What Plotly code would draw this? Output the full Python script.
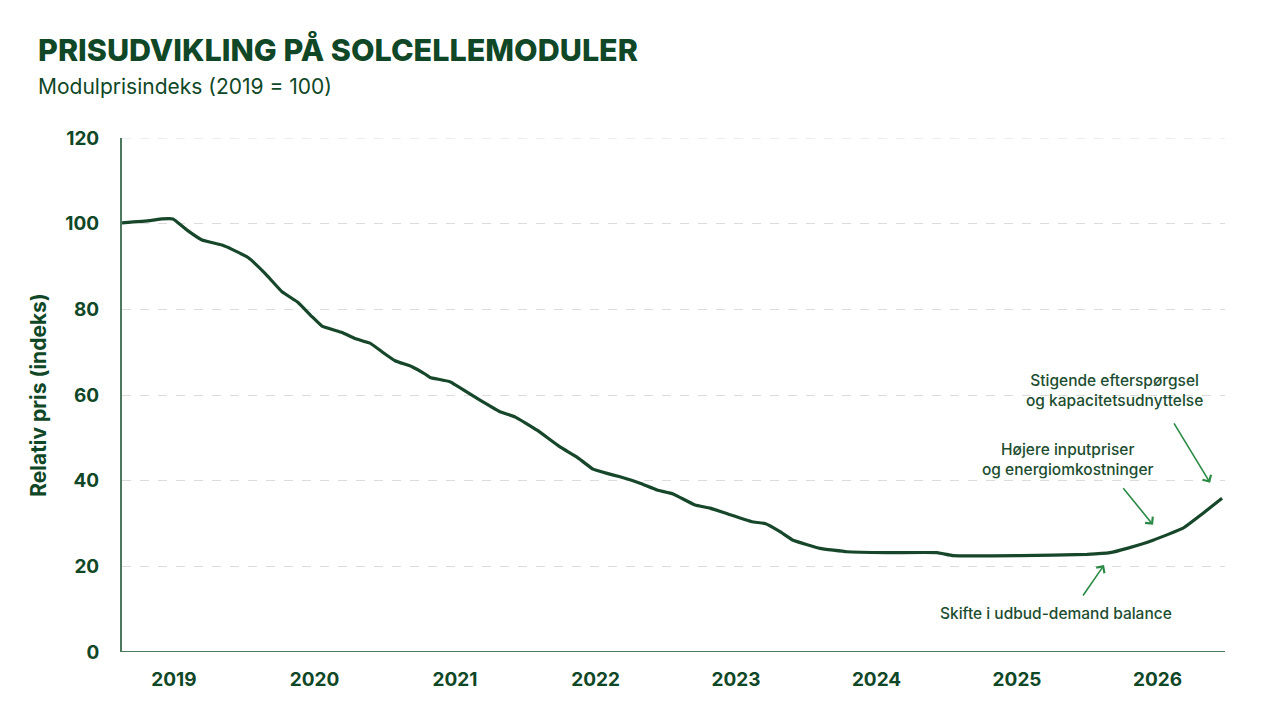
import plotly.graph_objects as go

# Decimal-year positions and index values
years = [2019.130, 2019.329, 2019.415, 2019.493, 2019.593, 2019.699, 2019.842, 2019.913,
         2020.027, 2020.148, 2020.269, 2020.383, 2020.482, 2020.553, 2020.696, 2020.788,
         2020.895, 2020.980, 2021.073, 2021.194, 2021.286, 2021.322, 2021.464, 2021.657,
         2021.820, 2021.927, 2022.084, 2022.247, 2022.368, 2022.482, 2022.582, 2022.674,
         2022.817, 2022.938, 2023.052, 2023.208, 2023.315, 2023.443, 2023.614, 2023.706,
         2023.813, 2023.906, 2024.098, 2024.290, 2024.575, 2024.931, 2025.045, 2025.521,
         2025.998, 2026.162, 2026.283, 2026.468, 2026.681, 2026.824, 2026.959]
index_values = [100.2, 100.7, 101.1, 101.1, 98.5, 96.2, 95.0, 94.0,
                92.1, 88.4, 84.1, 81.6, 78.3, 76.1, 74.6, 73.2,
                72.1, 70.1, 68.0, 66.6, 64.9, 64.1, 63.1, 59.2,
                56.1, 54.9, 51.8, 47.9, 45.5, 42.7, 41.7, 40.9,
                39.4, 37.8, 36.9, 34.3, 33.6, 32.2, 30.4, 30.0,
                28.1, 26.1, 24.2, 23.4, 23.2, 23.2, 22.5, 22.5,
                22.8, 23.2, 24.2, 26.1, 28.9, 32.4, 35.9]

tick_years = [2019, 2020, 2021, 2022, 2023, 2024, 2025, 2026]
tick_labels = [str(y) for y in tick_years]
y_ticks = [0, 20, 40, 60, 80, 100, 120]

title_text = "PRISUDVIKLING PÅ SOLCELLEMODULER"
subtitle_text = "Modulprisindeks (2019 = 100)"
y_title = "Relativ pris (indeks)"

DARK = "#0f4727"
LINE = "#17472a"
AXIS = "#4d7a5e"
ARROW = "#2a8a45"
TXT = "#1d4d30"
GRID = "#dcdcdc"
FONT = "Inter"

fig = go.Figure()
fig.add_trace(go.Scatter(
    x=years, y=index_values, mode="lines",
    line=dict(color=LINE, width=3.2, shape="spline", smoothing=0.3),
    hoverinfo="skip", showlegend=False,
))

fig.update_layout(
    width=1280, height=720,
    margin=dict(l=122, r=55, t=138, b=68),
    paper_bgcolor="#ffffff", plot_bgcolor="#ffffff",
    font=dict(family=FONT, color=DARK),
    showlegend=False,
)

fig.update_xaxes(
    range=[2019.13, 2026.98],
    tickmode="array",
    tickvals=[y + 0.5 for y in tick_years],
    ticktext=tick_labels,
    tickfont=dict(family=FONT, size=19, color=DARK, weight=700),
    showgrid=False, zeroline=False,
    showline=False, ticks="", ticklabelstandoff=14,
)
fig.update_yaxes(
    range=[0, 120],
    tickmode="array", tickvals=y_ticks,
    tickfont=dict(family=FONT, size=19, color=DARK, weight=700),
    showgrid=True, gridcolor=GRID, griddash="dash", gridwidth=1,
    zeroline=False, showline=True, linecolor=AXIS, linewidth=2,
    ticks="", ticklabelstandoff=17,
    title=dict(text=y_title, font=dict(family=FONT, size=21, color=DARK, weight=700), standoff=13),
)

# top gridline at the range edge (plotly skips it)
fig.add_shape(type="line", xref="paper", yref="y", x0=0, x1=1, y0=y_ticks[-1], y1=y_ticks[-1],
              line=dict(color=GRID, width=1, dash="dash"), layer="below")
# bottom axis line at 0
fig.add_shape(type="line", xref="paper", yref="y", x0=0, x1=1, y0=0, y1=0,
              line=dict(color=AXIS, width=2))

# Title and subtitle
fig.add_annotation(text=title_text, xref="paper", yref="paper",
                   x=(38 - 122) / 1103, xshift=-2, y=1 + (138 - 50) / 514, xanchor="left", yanchor="middle",
                   showarrow=False, font=dict(family=FONT, size=30.5, color=DARK, weight=800))
fig.add_annotation(text=subtitle_text, xref="paper", yref="paper",
                   x=(38 - 122) / 1103, xshift=-2, y=1 + (138 - 87) / 514, xanchor="left", yanchor="middle",
                   showarrow=False, font=dict(family=FONT, size=21, color=DARK))

# Annotation texts
ann_font = dict(family=FONT, size=15.5, color=TXT, weight=500)
fig.add_annotation(text="Stigende efterspørgsel<br>og kapacitetsudnyttelse",
                   x=2026.19, y=61.0, showarrow=False, align="center", font=ann_font)
fig.add_annotation(text="Højere inputpriser<br>og energiomkostninger",
                   x=2025.86, y=45.0, showarrow=False, align="center", font=ann_font)
fig.add_annotation(text="Skifte i udbud-demand balance",
                   x=2025.78, y=9.1, showarrow=False, align="center", font=ann_font)

# Arrows
for (hx, hy, ax, ay) in [(2026.874, 39.5, -37, -61), (2026.468, 29.7, -31, -38), (2026.119, 20.3, -22, 32)]:
    fig.add_annotation(x=hx, y=hy, ax=ax, ay=ay, text="", showarrow=True,
                       arrowhead=4, arrowsize=1.2, arrowwidth=1.6, arrowcolor=ARROW, standoff=0)

fig.write_html("out.html")
